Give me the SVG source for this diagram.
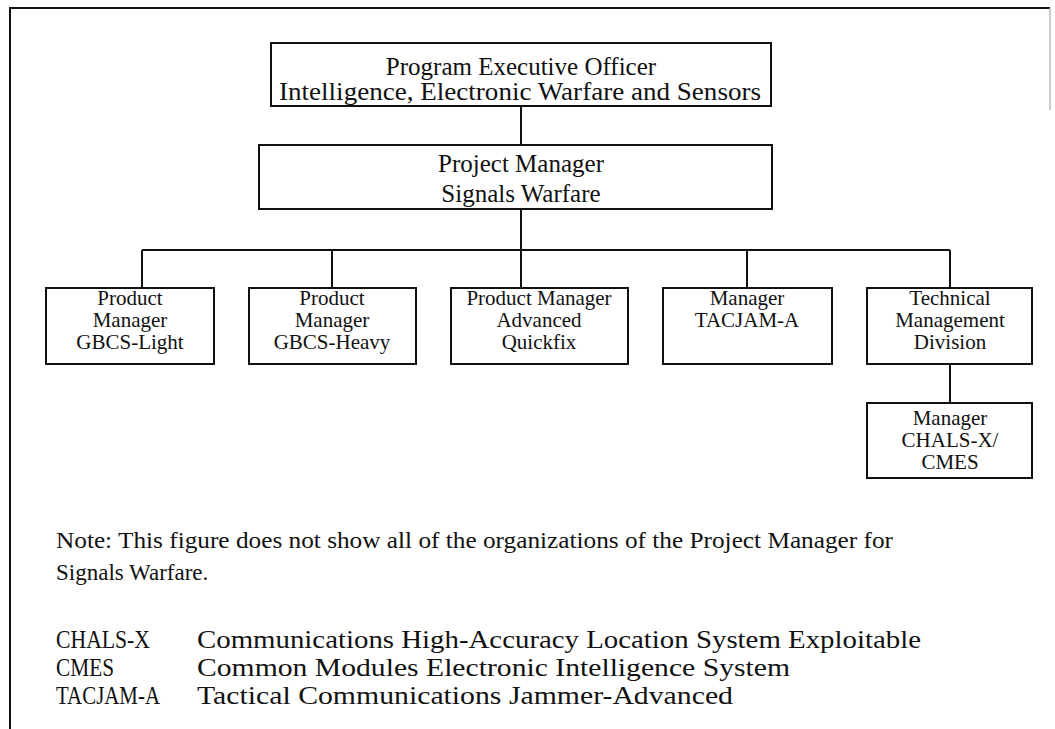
<svg xmlns="http://www.w3.org/2000/svg" width="1055" height="729" viewBox="0 0 1055 729">
<style>
.box{fill:#fff;stroke:#111;stroke-width:2}
.ln{stroke:#111;stroke-width:2;fill:none}
text{font-family:"Liberation Serif","Times New Roman",serif;fill:#111}
.t1{font-size:25px;text-anchor:middle}
.t2{font-size:21px;text-anchor:middle}
.nt{font-size:23px}
.ls{font-size:26px}
</style>
<rect width="1055" height="729" fill="#fff"/>
<g id="frame">
<path class="ln" d="M10,729 V8 H1050"/>
<path d="M1050,8 V110" stroke="#bbb" stroke-width="1.5" fill="none"/>
</g>
<g id="connectors">
<path class="ln" d="M521,106 V145"/>
<path class="ln" d="M521,209 V288"/>
<path class="ln" d="M142,250 H950"/>
<path class="ln" d="M142,250 V288"/>
<path class="ln" d="M332,250 V288"/>
<path class="ln" d="M747,250 V288"/>
<path class="ln" d="M950,250 V288"/>
<path class="ln" d="M950,364 V403"/>
</g>
<g id="peo">
<rect class="box" x="271" y="43" width="500" height="63"/>
<text class="t1" x="521" y="75">Program Executive Officer</text>
<text class="t1" x="520" y="100" textLength="482" lengthAdjust="spacingAndGlyphs">Intelligence, Electronic Warfare and Sensors</text>
</g>
<g id="pm">
<rect class="box" x="259" y="145" width="513" height="64"/>
<text class="t1" x="521" y="172">Project Manager</text>
<text class="t1" x="521" y="202">Signals Warfare</text>
</g>
<g id="gbcs-light">
<rect class="box" x="46" y="288" width="168" height="76"/>
<text class="t2" x="130" y="305">Product</text>
<text class="t2" x="130" y="327">Manager</text>
<text class="t2" x="130" y="349">GBCS-Light</text>
</g>
<g id="gbcs-heavy">
<rect class="box" x="249" y="288" width="167" height="76"/>
<text class="t2" x="332" y="305">Product</text>
<text class="t2" x="332" y="327">Manager</text>
<text class="t2" x="332" y="349">GBCS-Heavy</text>
</g>
<g id="quickfix">
<rect class="box" x="451" y="288" width="177" height="76"/>
<text class="t2" x="539" y="305">Product Manager</text>
<text class="t2" x="539" y="327">Advanced</text>
<text class="t2" x="539" y="349">Quickfix</text>
</g>
<g id="tacjam">
<rect class="box" x="663" y="288" width="169" height="76"/>
<text class="t2" x="747" y="305">Manager</text>
<text class="t2" x="747" y="327">TACJAM-A</text>
</g>
<g id="tmd">
<rect class="box" x="867" y="288" width="165" height="76"/>
<text class="t2" x="950" y="305">Technical</text>
<text class="t2" x="950" y="327">Management</text>
<text class="t2" x="950" y="349">Division</text>
</g>
<g id="chals">
<rect class="box" x="867" y="403" width="165" height="75"/>
<text class="t2" x="950" y="425">Manager</text>
<text class="t2" x="950" y="447">CHALS-X/</text>
<text class="t2" x="950" y="469">CMES</text>
</g>
<g id="notes">
<text class="nt" x="56" y="548" textLength="837" lengthAdjust="spacingAndGlyphs">Note:  This figure does not show all of the organizations of the Project Manager for</text>
<text class="nt" x="56" y="580">Signals Warfare.</text>
<text class="ls" x="56" y="648" textLength="94" lengthAdjust="spacingAndGlyphs">CHALS-X</text>
<text class="ls" x="197" y="648" textLength="724" lengthAdjust="spacingAndGlyphs">Communications High-Accuracy Location System Exploitable</text>
<text class="ls" x="56" y="676" textLength="58" lengthAdjust="spacingAndGlyphs">CMES</text>
<text class="ls" x="197" y="676" textLength="593" lengthAdjust="spacingAndGlyphs">Common Modules Electronic Intelligence System</text>
<text class="ls" x="56" y="704" textLength="104" lengthAdjust="spacingAndGlyphs">TACJAM-A</text>
<text class="ls" x="197" y="704" textLength="536" lengthAdjust="spacingAndGlyphs">Tactical Communications Jammer-Advanced</text>
</g>
</svg>
